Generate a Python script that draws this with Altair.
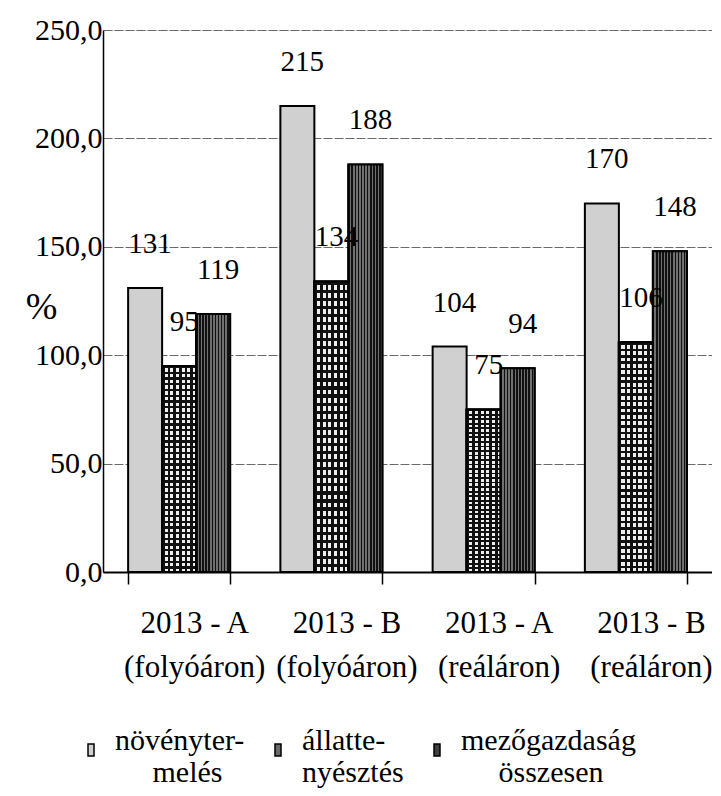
import altair as alt
import pandas as pd

groups = ["2013 - A|(folyóáron)", "2013 - B|(folyóáron)", "2013 - A|(reáláron)", "2013 - B|(reáláron)"]
series = ["növénytermelés", "állattenyésztés", "mezőgazdaság összesen"]
novenytermeles = [131, 215, 104, 170]
allattenyesztes = [95, 134, 75, 106]
osszesen = [119, 188, 94, 148]
y_ticks = [0, 50, 100, 150, 200, 250]
colors = ["#d0d0d0", "#6a6a6a", "#404040"]

rows = []
for i, g in enumerate(groups):
    for s, vals in zip(series, [novenytermeles, allattenyesztes, osszesen]):
        rows.append({"csoport": g, "ágazat": s, "érték": vals[i]})
df = pd.DataFrame(rows)

FONT = "Liberation Serif"
ZW = "\u200b"
NB = "\u00a0"


def stripe_gradient(n, line_color, gap_color, frac, vertical_lines=True):
    stops = []
    for i in range(n):
        a, m, b = i / n, (i + frac) / n, (i + 1) / n
        stops += [
            alt.GradientStop(offset=a, color=line_color),
            alt.GradientStop(offset=m, color=line_color),
            alt.GradientStop(offset=m, color=gap_color),
            alt.GradientStop(offset=b, color=gap_color),
        ]
    if vertical_lines:
        return alt.Gradient(gradient="linear", stops=stops, x1=0, x2=1, y1=0, y2=0)
    return alt.Gradient(gradient="linear", stops=stops, x1=0, x2=0, y1=0, y2=1)


legend_expr = (
    "datum.label == 'növénytermelés' ? ['növényter-', '" + ZW + NB * 5 + "melés'] : "
    "datum.label == 'állattenyésztés' ? ['állatte-', 'nyésztés'] : "
    "['mezőgazdaság', '" + ZW + NB * 5 + "összesen']"
)

x_enc = alt.X(
    "csoport:N",
    sort=groups,
    scale=alt.Scale(paddingInner=0.33, paddingOuter=0.165),
    axis=alt.Axis(
        title=None,
        labelExpr="split(datum.label, '|')",
        labelFont=FONT,
        labelFontSize=31,
        labelColor="black",
        labelAngle=0,
        labelLineHeight=44,
        labelPadding=24,
        labelOffset=15,
        labelOverlap=False,
        labelBound=False,
        tickBand="extent",
        tickSize=12,
        tickColor="black",
        tickWidth=1.5,
        domainColor="black",
        domainWidth=2,
        grid=False,
    ),
)
xo_enc = alt.XOffset("ágazat:N", sort=series, scale=alt.Scale(domain=series, paddingInner=0, paddingOuter=0))
y_enc = alt.Y(
    "érték:Q",
    scale=alt.Scale(domain=[0, 250], nice=False),
    axis=alt.Axis(
        values=y_ticks,
        title="%",
        titleAngle=0,
        titleFont=FONT,
        titleFontSize=38,
        titleFontWeight="normal",
        titleColor="black",
        titleX=-62,
        titleY=277,
        titleAlign="center",
        titleBaseline="middle",
        labelExpr="replace(format(datum.value, '.1f'), '.', ',')",
        labelFont=FONT,
        labelFontSize=30,
        labelColor="black",
        labelPadding=1,
        ticks=False,
        domainColor="black",
        domainWidth=1.5,
        grid=True,
        gridColor="#6a6a6a",
        gridWidth=1,
        gridDash=[9, 2],
    ),
)

base = alt.Chart(df).encode(
    x=x_enc,
    xOffset=xo_enc,
    y=y_enc,
)

bars = base.mark_bar(stroke="black", strokeWidth=2).encode(
    color=alt.Color(
        "ágazat:N",
        sort=series,
        scale=alt.Scale(domain=series, range=colors),
        legend=alt.Legend(
            title=None,
            orient="none",
            legendX=-27,
            legendY=705,
            direction="horizontal",
            columns=3,
            columnPadding=18,
            padding=0,
            symbolType="M-0.25,-0.5H0.25V0.5H-0.25Z",
            symbolSize=576,
            symbolStrokeColor="black",
            symbolStrokeWidth=1.5,
            labelFont=FONT,
            labelFontSize=30,
            labelColor="black",
            labelOffset=9,
            labelLimit=0,
            labelBaseline="alphabetic",
            labelExpr=legend_expr,
        ),
    ),
)

# texture overlays
grid_v = base.transform_filter(alt.datum["ágazat"] == series[1]).mark_bar(
    fill=stripe_gradient(6, "#111111", "#eeeeee", 0.45, True), stroke="black", strokeWidth=2
)
grid_h = base.transform_filter(alt.datum["ágazat"] == series[1]).mark_bar(
    fill=stripe_gradient(36, "#111111", "rgba(0,0,0,0)", 0.4, False), stroke="black", strokeWidth=2
)
stripes = base.transform_filter(alt.datum["ágazat"] == series[2]).mark_bar(
    fill=stripe_gradient(11, "#111111", "#707070", 0.5, True), stroke="black", strokeWidth=2
)

labels = alt.Chart(df).mark_text(
    font=FONT, fontSize=29, color="black", baseline="alphabetic", dx=5, dy=-35
).encode(
    x=alt.X("csoport:N", sort=groups),
    xOffset=alt.XOffset("ágazat:N", sort=series),
    y=alt.Y("érték:Q"),
    text=alt.Text("érték:Q"),
)

chart = (
    alt.layer(bars, grid_v, grid_h, stripes, labels)
    .properties(
        width=609,
        height=542,
        autosize=alt.AutoSizeParams(type="none"),
        padding={"left": 95, "top": 22, "right": 0, "bottom": 216},
    )
    .configure_view(stroke=None)
    .configure(background="white")
)

chart.save("out.html", embed_options={"renderer": "svg", "actions": False})
